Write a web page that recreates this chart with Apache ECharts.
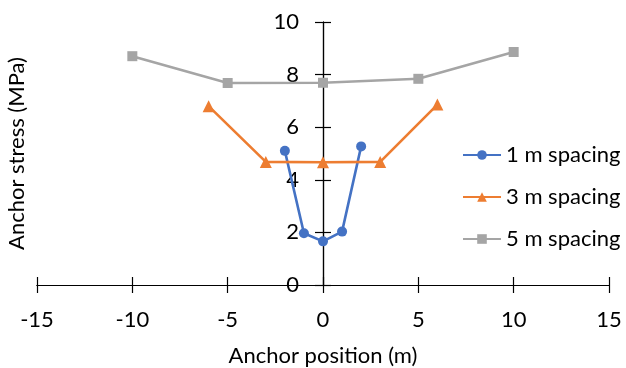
<!DOCTYPE html>
<html>
<head>
<meta charset="utf-8">
<script src="https://cdn.jsdelivr.net/npm/echarts@6/dist/echarts.min.js"></script>
<style>
  html, body { margin: 0; padding: 0; background: #fff; }
  #chart { width: 626px; height: 368px; }
</style>
</head>
<body>
<div id="chart"></div>
<script>
// Anchor stress along the anchor row for three anchor spacings
const seriesNames = ['1 m spacing', '3 m spacing', '5 m spacing'];

const pos1m = [-2, -1, 0, 1, 2];
const stress1m = [5.1, 1.97, 1.66, 2.03, 5.27];

const pos3m = [-6, -3, 0, 3, 6];
const stress3m = [6.8, 4.68, 4.67, 4.68, 6.86];

const pos5m = [-10, -5, 0, 5, 10];
const stress5m = [8.7, 7.68, 7.69, 7.84, 8.86];

const xTicks = { min: -15, max: 15, interval: 5 };
const yTicks = { min: 0, max: 10, interval: 2 };

const pair = (xs, ys) => xs.map((x, i) => [x, ys[i]]);

const FONT = 'Lato';
const TEXT = '#000';
const AXIS = '#000';

const GRID = { left: 37, right: 17, top: 22, bottom: 83 };
const CHART_W = 626;
// the vertical axis crosses the horizontal one at x = 0
const plotW = CHART_W - GRID.left - GRID.right;
const yAxisShift = -plotW * (0 - xTicks.min) / (xTicks.max - xTicks.min);

const chart = echarts.init(document.getElementById('chart'), null, { renderer: 'canvas' });

const baseX = {
  type: 'value',
  min: xTicks.min, max: xTicks.max, interval: xTicks.interval,
  position: 'bottom',
  splitLine: { show: false },
  axisLine: { show: true, onZero: false, lineStyle: { color: AXIS, width: 1.2 } }
};
const baseY = {
  type: 'value',
  min: yTicks.min, max: yTicks.max, interval: yTicks.interval,
  position: 'left',
  offset: yAxisShift,
  splitLine: { show: false },
  axisLine: { show: true, onZero: false, lineStyle: { color: AXIS, width: 1.2 } }
};

chart.setOption({
  animation: false,
  backgroundColor: '#fff',
  textStyle: { fontFamily: FONT },
  grid: Object.assign({ containLabel: false, outerBoundsMode: 'none' }, GRID),
  xAxis: [
    Object.assign({}, baseX, {
      name: 'Anchor position (m)',
      nameLocation: 'middle',
      nameGap: 60,
      nameTextStyle: { color: TEXT, fontSize: 22, fontFamily: FONT },
      axisTick: { show: true, inside: false, length: 8, lineStyle: { color: AXIS, width: 1.2 } },
      axisLabel: { color: TEXT, fontSize: 22, fontFamily: FONT, margin: 24 }
    }),
    Object.assign({}, baseX, {
      axisTick: { show: true, inside: true, length: 8, lineStyle: { color: AXIS, width: 1.2 } },
      axisLabel: { show: false }
    })
  ],
  yAxis: [
    Object.assign({}, baseY, {
      name: 'Anchor stress (MPa)',
      nameLocation: 'middle',
      nameGap: -yAxisShift + 9,
      nameRotate: 90,
      nameTextStyle: { color: TEXT, fontSize: 22, fontFamily: FONT },
      axisTick: { show: true, inside: false, length: 8, lineStyle: { color: AXIS, width: 1.2 } },
      axisLabel: { color: TEXT, fontSize: 22, fontFamily: FONT, margin: 24 }
    }),
    Object.assign({}, baseY, {
      axisTick: { show: true, inside: true, length: 8, lineStyle: { color: AXIS, width: 1.2 } },
      axisLabel: { show: false }
    })
  ],
  legend: {
    orient: 'vertical',
    left: 457,
    top: 139,
    itemWidth: 38,
    itemHeight: 12,
    itemGap: 20,
    textStyle: { color: TEXT, fontSize: 22, fontFamily: FONT },
    data: seriesNames
  },
  series: [
    {
      name: seriesNames[0], type: 'line', xAxisIndex: 0, yAxisIndex: 0,
      data: pair(pos1m, stress1m),
      symbol: 'circle', symbolSize: 10,
      lineStyle: { color: '#4472C4', width: 2.6 },
      itemStyle: { color: '#4472C4' }
    },
    {
      name: seriesNames[1], type: 'line', xAxisIndex: 0, yAxisIndex: 0,
      data: pair(pos3m, stress3m),
      symbol: 'triangle', symbolSize: 12,
      lineStyle: { color: '#ED7D31', width: 2.6 },
      itemStyle: { color: '#ED7D31' }
    },
    {
      name: seriesNames[2], type: 'line', xAxisIndex: 0, yAxisIndex: 0,
      data: pair(pos5m, stress5m),
      symbol: 'rect', symbolSize: 10,
      lineStyle: { color: '#A5A5A5', width: 2.6 },
      itemStyle: { color: '#A5A5A5' }
    }
  ]
});
</script>
</body>
</html>
